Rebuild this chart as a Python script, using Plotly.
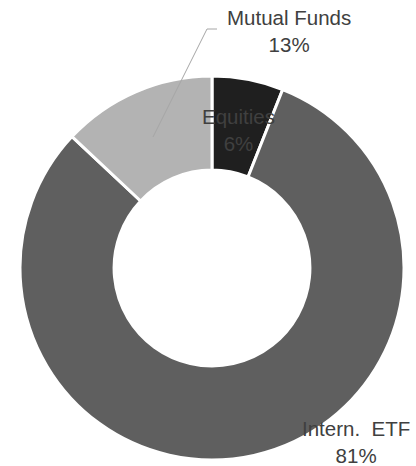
import plotly.graph_objects as go

labels = ["Equities", "Intern.  ETF", "Mutual Funds"]
values = [6, 81, 13]
colors = ["#1f1f1f", "#5f5f5f", "#b3b3b3"]

W, H = 416, 466

def px(x, y):
    return x / W, 1 - y / H

total = sum(values)
pct = [f"{round(v / total * 100)}%" for v in values]

cx, cy, r = 212, 268, 192
x0, _ = px(cx - r, 0)
x1, _ = px(cx + r, 0)
_, y1 = px(0, cy - r)
_, y0 = px(0, cy + r)

fig = go.Figure(go.Pie(
    labels=labels,
    values=values,
    sort=False,
    direction="clockwise",
    rotation=0,
    hole=0.51,
    marker=dict(colors=colors, line=dict(color="white", width=3)),
    textinfo="none",
    showlegend=False,
    domain=dict(x=[x0, x1], y=[y0, y1]),
))

font = dict(family="Liberation Sans, Arial, sans-serif", size=20.5, color="#404040")
label_pos = [(239, 130), (356, 442), (289, 31)]
anns = []
for lab, p, (lx, ly) in zip(labels, pct, label_pos):
    ax, ay = px(lx, ly)
    anns.append(dict(text=f"{lab}<br>{p}", x=ax, y=ay, xref="paper", yref="paper",
                     showarrow=False, font=font, xanchor="center", yanchor="middle"))

pts = [(217, 29), (207, 29), (153, 137)]
path = "M " + " L ".join(f"{px(a, b)[0]},{px(a, b)[1]}" for a, b in pts)

fig.update_layout(
    width=W, height=H,
    margin=dict(l=0, r=0, t=0, b=0),
    paper_bgcolor="white",
    plot_bgcolor="white",
    annotations=anns,
    shapes=[dict(type="path", path=path, xref="paper", yref="paper",
                 line=dict(color="#a6a6a6", width=1))],
)

fig.write_html("out.html")
